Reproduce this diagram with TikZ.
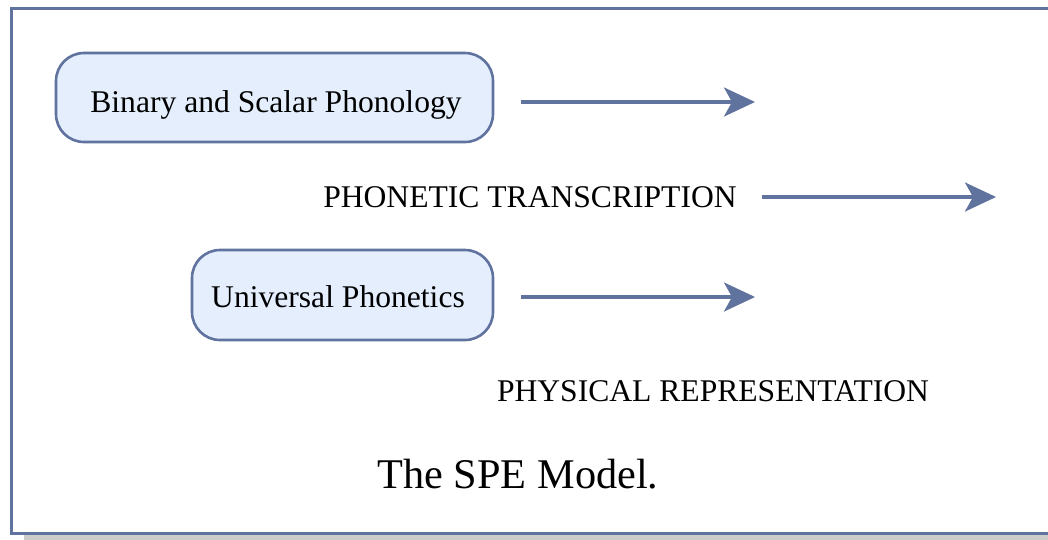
\documentclass[tikz,border=0pt]{standalone}
\usepackage{fontspec}
\setmainfont{Liberation Serif}
\usetikzlibrary{arrows.meta}
\definecolor{edge}{RGB}{96,114,158}
\definecolor{boxfill}{RGB}{228,238,253}
\definecolor{shadowgray}{RGB}{204,204,204}
\tikzset{
  phbox/.style={draw=edge, line width=2.6pt, fill=boxfill, rounded corners=28pt, inner sep=0pt},
  bodytext/.style={font=\fontsize{31.6}{36}\selectfont, inner sep=0pt, anchor=base},
  titletext/.style={font=\fontsize{42.3}{48}\selectfont, inner sep=0pt, anchor=base},
  flow/.style={draw=edge, line width=3.3pt, -{Stealth[length=31pt, width=29pt, inset=8pt]}}
}
\begin{document}
\begin{tikzpicture}[x=1pt,y=-1pt]
\useasboundingbox (0,0) rectangle (1048,539);
\clip (0,0) rectangle (1048,539);
% frame with shadow
\fill[shadowgray] (24,20) rectangle (1080,545);
\fill[white] (11,8) rectangle (1070,533);
\draw[edge, line width=3pt] (11,8) rectangle (1070,533);
% boxes
\draw[phbox] (56,53) rectangle (493,142);
\node[bodytext] (b1) at (276,112) {Binary and Scalar Phonology};
\draw[phbox] (192,250) rectangle (493,340);
\node[bodytext] (b2) at (338,307) {Universal Phonetics};
% labels
\node[bodytext] (pt) at (530,207) {PHONETIC TRANSCRIPTION};
\node[bodytext] (pr) at (713,401) {PHYSICAL REPRESENTATION};
\node[titletext] (title) at (518,488) {The SPE Model.};
% arrow ends
\coordinate (a1s) at (521,102);
\coordinate (a1e) at (755,102);
\coordinate (a2s) at (762,197);
\coordinate (a2e) at (996,197);
\coordinate (a3s) at (521,297);
\coordinate (a3e) at (755,297);
\draw[flow] (a1s) -- (a1e);
\draw[flow] (a2s) -- (a2e);
\draw[flow] (a3s) -- (a3e);
\end{tikzpicture}
\end{document}
